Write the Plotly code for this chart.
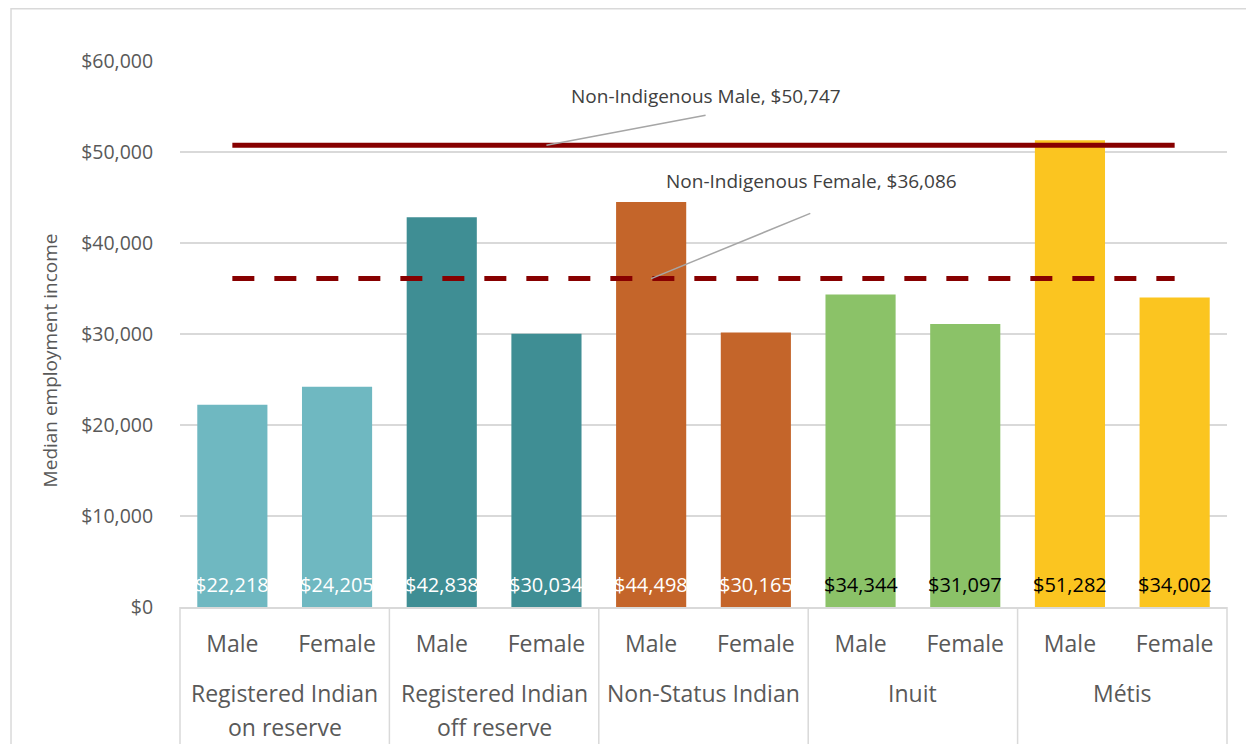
import plotly.graph_objects as go

group_line1 = ["Registered Indian", "Registered Indian", "Non-Status Indian", "Inuit", "Métis"]
group_line2 = ["on reserve", "off reserve", "", "", ""]
sexes = ["Male", "Female"]
values = [22218, 24205, 42838, 30034, 44498, 30165, 34344, 31097, 51282, 34002]
group_colors = ["#6FB8C1", "#3F8E94", "#C4652A", "#8BC268", "#FBC520"]
label_colors = ["#FFFFFF", "#FFFFFF", "#FFFFFF", "#000000", "#000000"]
ref_male = 50747
ref_female = 36086
ref_male_label = "Non-Indigenous Male, $50,747"
ref_female_label = "Non-Indigenous Female, $36,086"
y_title = "Median employment income"

FONT = "Open Sans"
n = len(values)
ng = len(group_line1)
xs = list(range(n))
tick_text = [sexes[i % 2] for i in xs]
bar_colors = [group_colors[i // 2] for i in xs]
txt_colors = [label_colors[i // 2] for i in xs]

fig = go.Figure()
fig.add_trace(go.Bar(
    x=xs, y=values, width=0.67,
    marker=dict(color=bar_colors, line=dict(width=0)),
    hoverinfo="skip", showlegend=False,
))
fig.add_trace(go.Scatter(
    x=[xs[0], xs[-1]], y=[ref_male, ref_male], mode="lines",
    line=dict(color="#870000", width=5), showlegend=False, hoverinfo="skip",
))
fig.add_trace(go.Scatter(
    x=[xs[0], xs[-1]], y=[ref_female, ref_female], mode="lines",
    line=dict(color="#870000", width=5, dash="22px,20px"), showlegend=False, hoverinfo="skip",
))

shapes = []
# leader lines
shapes.append(dict(type="line", xref="x", yref="y", x0=3.0, y0=ref_male, x1=4.52, y1=54030,
                   line=dict(color="#A6A6A6", width=1.5)))
shapes.append(dict(type="line", xref="x", yref="y", x0=4.0, y0=ref_female, x1=5.52, y1=43260,
                   line=dict(color="#A6A6A6", width=1.5)))
# category dividers
for b in range(ng + 1):
    px = (2 * b) / n
    shapes.append(dict(type="line", xref="paper", yref="paper", x0=px, x1=px, y0=0, y1=-0.4,
                       line=dict(color="#D9D9D9", width=1.5)))
# chart border
shapes.append(dict(type="rect", xref="paper", yref="paper", x0=-0.1614, x1=1.2, y0=1.0955, y1=-0.5,
                   line=dict(color="#D9D9D9", width=1.5)))

annotations = [
    dict(x=4.52, y=56150, xref="x", yref="y", text=ref_male_label, showarrow=False,
         xanchor="center", font=dict(family=FONT, size=19, color="#404040")),
    dict(x=5.53, y=46850, xref="x", yref="y", text=ref_female_label, showarrow=False,
         xanchor="center", font=dict(family=FONT, size=19, color="#404040")),
    dict(x=-0.124, y=0.452, xref="paper", yref="paper", text=y_title, showarrow=False,
         textangle=-90, xanchor="center", yanchor="middle",
         font=dict(family=FONT, size=19, color="#595959")),
]
# data labels at the base of each bar
for i, v in enumerate(values):
    annotations.append(dict(x=i, y=0, xref="x", yref="y", text=f"${v:,}", showarrow=False,
                            xanchor="center", yanchor="middle", yshift=23,
                            font=dict(family=FONT, size=20, color=txt_colors[i])))
for g in range(ng):
    cx = (2 * g + 1) / n
    annotations.append(dict(x=cx, y=-0.1575, xref="paper", yref="paper", text=group_line1[g],
                            showarrow=False, xanchor="center", yanchor="middle",
                            font=dict(family=FONT, size=23, color="#595959")))
    if group_line2[g]:
        annotations.append(dict(x=cx, y=-0.2198, xref="paper", yref="paper", text=group_line2[g],
                                showarrow=False, xanchor="center", yanchor="middle",
                                font=dict(family=FONT, size=23, color="#595959")))

fig.update_layout(
    width=1246, height=736,
    margin=dict(l=172, r=27, t=53, b=137, pad=0),
    paper_bgcolor="white", plot_bgcolor="white",
    font=dict(family=FONT, color="#595959"),
    shapes=shapes, annotations=annotations,
)
fig.update_xaxes(
    range=[-0.5, n - 0.5], tickvals=xs, ticktext=tick_text,
    tickfont=dict(family=FONT, size=23, color="#595959"),
    ticks="outside", ticklen=16, tickcolor="rgba(0,0,0,0)",
    showgrid=False, showline=True, linecolor="#D9D9D9", linewidth=1.5,
    zeroline=False, fixedrange=True,
)
fig.update_yaxes(
    range=[0, 60000], dtick=10000, tickformat="$,.0f",
    tickfont=dict(family=FONT, size=19.5, color="#595959"),
    ticks="outside", ticklen=22, tickcolor="rgba(0,0,0,0)",
    showgrid=True, gridcolor="#D9D9D9", gridwidth=1.5,
    zeroline=False, showline=False,
    fixedrange=True,
)

fig.write_html("out.html", config={"displayModeBar": False})
